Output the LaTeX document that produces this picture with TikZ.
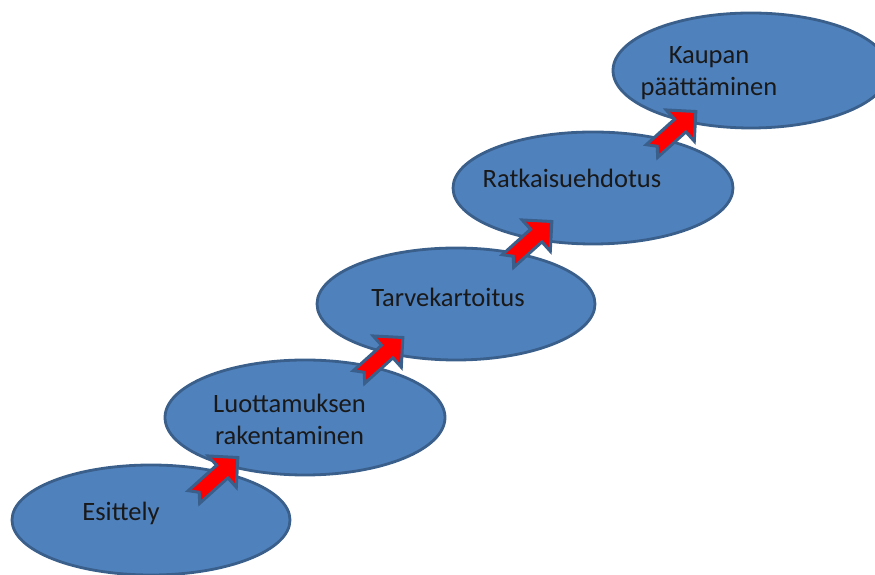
\documentclass[tikz,border=0pt]{standalone}
\usepackage{fontspec}
\setmainfont{Carlito}
\usetikzlibrary{shapes.geometric, calc}

\definecolor{stepblue}{HTML}{4F81BD}
\definecolor{stepedge}{HTML}{3A5F8B}

\begin{document}
\begin{tikzpicture}[
    x=1pt, y=1pt,
    stage/.style={ellipse, draw=stepedge, fill=stepblue, line width=2.8pt, inner sep=0pt},
    stagetext/.style={font=\fontsize{26.5}{32}\selectfont, text=black!90, inner sep=0pt, align=center},
    stairarrow/.pic={
      \draw[stepedge, fill=red, line width=3pt, line join=miter]
        (0,8.5) -- (38,8.5) -- (38,21) -- (59,0) -- (38,-21) -- (38,-8.5) -- (0,-8.5) -- (7,0) -- cycle;
    }
  ]
    \useasboundingbox (0,0) rectangle (875,575);
    \clip (0,0) rectangle (875,575);

    \node[stage, minimum width=278pt, minimum height=110pt] (esittely) at (151,55) {};
    \node[stage, minimum width=280pt, minimum height=115pt] (luottamus) at (305,157.5) {};
    \node[stage, minimum width=278pt, minimum height=112pt] (tarve) at (456,271) {};
    \node[stage, minimum width=280pt, minimum height=112pt] (ratkaisu) at (593,387) {};
    \node[stage, minimum width=276pt, minimum height=115pt] (kauppa) at (751,504.5) {};

    \node[stagetext] (esittely-t) at ($(esittely)+(-30,7)$) {Esittely};
    \node[stagetext] (luottamus-t) at ($(luottamus)+(-15.5,-2)$) {Luottamuksen\\rakentaminen};
    \node[stagetext] (tarve-t) at ($(tarve)+(-8,6.5)$) {Tarvekartoitus};
    \node[stagetext] (ratkaisu-t) at ($(ratkaisu)+(-21,9.5)$) {Ratkaisuehdotus};
    \node[stagetext] (kauppa-t) at ($(kauppa)+(-42,-3)$) {Kaupan\\päättäminen};

    \coordinate (a1) at ($(esittely)+(43,23)$);
    \coordinate (a2) at ($(luottamus)+(54,40.5)$);
    \coordinate (a3) at ($(tarve)+(52,43)$);
    \coordinate (a4) at ($(ratkaisu)+(59,37)$);

    \foreach \a in {a1,a2,a3,a4}
      \pic[rotate=42] at (\a) {stairarrow};
  \end{tikzpicture}
\end{document}
